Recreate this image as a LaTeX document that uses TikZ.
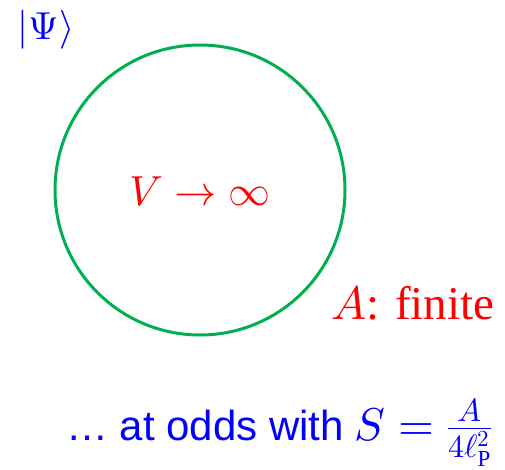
\documentclass[tikz,border=0pt]{standalone}
\usepackage{fontspec}
\usepackage{unicode-math}
\setmainfont{Liberation Serif}
\setmathfont{Latin Modern Math}
\newfontfamily\arialfont{Liberation Sans}
\definecolor{cgreen}{RGB}{0,176,80}
\begin{document}
\begin{tikzpicture}[x=1pt,y=-1pt]
\tikzset{redtxt/.style={text=red, inner sep=0, font=\fontsize{44}{50}\selectfont},
         bluetxt/.style={text=blue, inner sep=0}}
\useasboundingbox (0,0) rectangle (505,469);
\node[circle, draw=cgreen, line width=3pt, minimum size=290pt, inner sep=0] (c) at (200,190) {};
\node[bluetxt, font=\fontsize{39}{44}\selectfont] (psi) at (46,30) {$|\Psi\rangle$};
\node[redtxt, font=\fontsize{42}{48}\selectfont] (v) at (200,192) {$V\to\infty$};
\node[redtxt, anchor=base west, font=\fontsize{47}{52}\selectfont] (a) at (331,319) {$A$: finite};
\node[bluetxt, anchor=base west, font=\fontsize{42}{48}\selectfont] (s) at (66,440) {{\arialfont … at odds with} {\fontsize{46}{50}\selectfont$S=\frac{A}{4\ell_{\mathrm{P}}^{2}}$}};
\end{tikzpicture}
\end{document}
